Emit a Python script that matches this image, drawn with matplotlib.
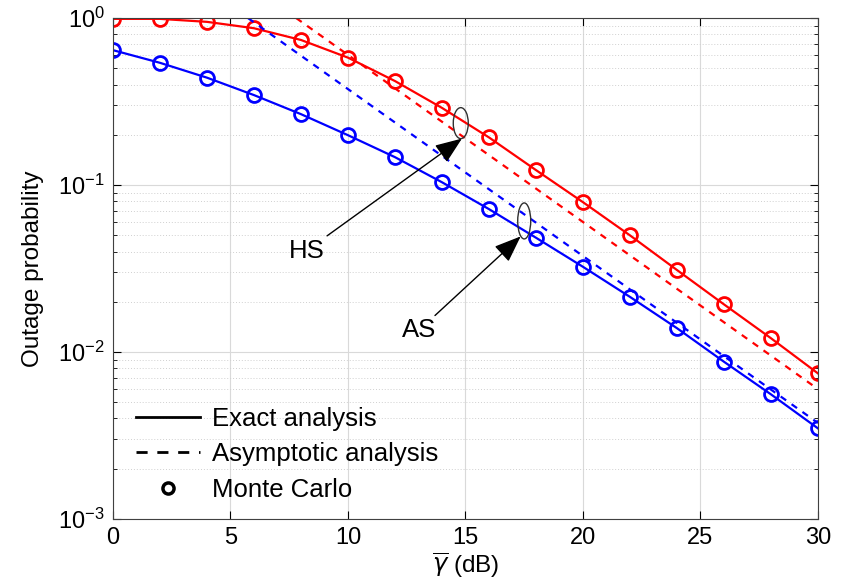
"""Outage probability vs average SNR: HS and AS, exact / asymptotic / Monte Carlo."""
import matplotlib

matplotlib.use("Agg")
import matplotlib.pyplot as plt
from matplotlib.lines import Line2D
from matplotlib.patches import Ellipse
from matplotlib.transforms import ScaledTranslation

plt.rcParams["font.family"] = ["Liberation Sans", "DejaVu Sans"]
plt.rcParams["mathtext.fontset"] = "dejavusans"

snr_db = [0, 2, 4, 6, 8, 10, 12, 14, 16, 18, 20, 22, 24, 26, 28, 30]
hs_exact = [0.99, 0.99, 0.95, 0.87, 0.74, 0.58, 0.42, 0.29, 0.193, 0.123,
            0.079, 0.050, 0.031, 0.0193, 0.0121, 0.00745]
as_exact = [0.643, 0.54, 0.44, 0.346, 0.266, 0.199, 0.147, 0.104, 0.0718, 0.0484,
            0.0324, 0.0214, 0.0139, 0.00875, 0.00558, 0.00349]

# asymptotic lines are straight on the log axis: read their end points
hs_asym_x = [7.8, 30]
hs_asym_y = [1.0, 0.0060]
as_asym_x = [5.75, 30]
as_asym_y = [1.0, 0.00376]

RED = (1, 0, 0)
BLUE = (0, 0, 1)
FS_TICK = 17
FS_LAB = 17.5
FS_TXT = 18.5

fig = plt.figure(figsize=(8.45, 5.85), dpi=100)
ax = fig.add_axes([0.1337, 0.1128, 0.8343, 0.8562])

for y, c in [(hs_exact, RED), (as_exact, BLUE)]:
    ax.plot(snr_db, y, color=c, lw=1.6, marker="o", ms=10, mfc="none", mew=2.0)
ax.plot(hs_asym_x, hs_asym_y, color=RED, lw=1.6, ls=(0, (3, 3)))
ax.plot(as_asym_x, as_asym_y, color=BLUE, lw=1.6, ls=(0, (3, 3)))

ax.set_yscale("log")
ax.set_xlim(0, 30)
ax.set_ylim(1e-3, 1)
ax.set_xticks([0, 5, 10, 15, 20, 25, 30])
ax.grid(which="major", color="#d9d9d9", lw=0.8)
ax.grid(which="minor", axis="y", color="#d0d0d0", lw=0.7, ls=(0, (1, 2)))
ax.tick_params(which="both", direction="in", top=True, right=True, labelsize=FS_TICK)
ax.tick_params(which="major", length=6, pad=6)
ax.tick_params(which="minor", length=3)
for s in ax.spines.values():
    s.set_color("#404040")
ax.set_xlabel(r"$\overline{\gamma}$ (dB)", fontsize=FS_LAB, labelpad=1)
ax.set_ylabel("Outage probability", fontsize=FS_LAB, labelpad=10)


def ring(cx, cy, w_in, h_in):
    tr = fig.dpi_scale_trans + ScaledTranslation(cx, cy, ax.transData)
    ax.add_patch(Ellipse((0, 0), w_in, h_in, transform=tr, fill=False,
                         edgecolor="#303030", lw=1.0, zorder=5))


ring(14.8, 0.235, 0.15, 0.31)
ring(17.5, 0.061, 0.13, 0.36)

arrow = dict(arrowstyle="-|>,head_length=0.9,head_width=0.35", color="black",
             lw=1.0, shrinkA=0, shrinkB=0)
ax.annotate("HS", xy=(14.85, 0.19), xytext=(9.0, 0.0405), fontsize=FS_TXT,
            ha="right", va="center", arrowprops=arrow)
ax.annotate("AS", xy=(17.35, 0.0493), xytext=(13.75, 0.0135), fontsize=FS_TXT,
            ha="right", va="center", arrowprops=arrow)

handles = [
    Line2D([], [], color="black", lw=2),
    Line2D([], [], color="black", lw=2, ls=(0, (4, 3.5))),
    Line2D([], [], color="black", ls="none", marker="o", ms=8, mfc="none", mew=2.5),
]
ax.legend(handles, ["Exact analysis", "Asymptotic analysis", "Monte Carlo"],
          loc="lower left", bbox_to_anchor=(0.0, -0.012), frameon=False,
          fontsize=FS_TXT, handlelength=2.5, labelspacing=0.45, handletextpad=0.45)

fig.savefig("out.png", dpi=100)
